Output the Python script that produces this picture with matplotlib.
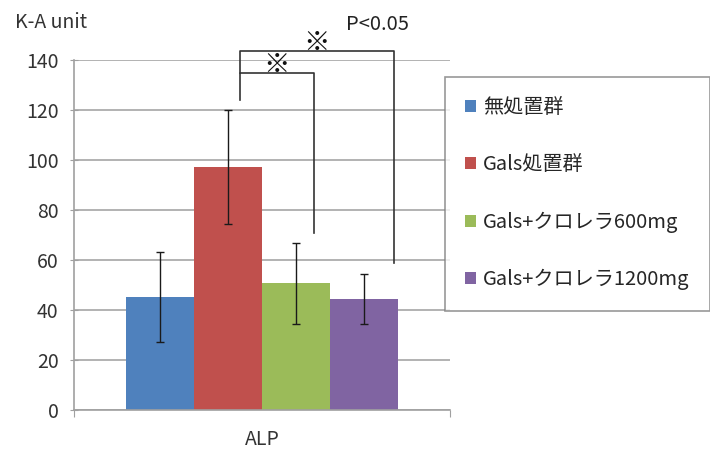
import matplotlib
matplotlib.use("Agg")
import matplotlib.pyplot as plt
from matplotlib.patches import Patch

plt.rcParams['font.family'] = ['Noto Sans CJK JP', 'DejaVu Sans']

category = "ALP"
groups = ["無処置群", "Gals処置群", "Gals+クロレラ600mg", "Gals+クロレラ1200mg"]
values = [45.2, 97.2, 50.8, 44.4]
errors = [18.0, 22.8, 16.2, 10.0]
colors = ["#4F81BD", "#C0504D", "#9BBB59", "#8064A2"]
yticks = [0, 20, 40, 60, 80, 100, 120, 140]
ylabel = "K-A unit"
sig_label = "P<0.05"
sig_mark = "※"

W, H = 710, 450
fig = plt.figure(figsize=(W / 100, H / 100), dpi=100)
ax = fig.add_axes([74 / W, 1 - 410 / H, (450 - 74) / W, 350 / H])

bw = 0.1815
n = len(groups)
xs = [(i - (n - 1) / 2) * bw for i in range(n)]
ax.bar(xs, values, width=bw, color=colors, edgecolor="none", zorder=2)
ax.errorbar(xs, values, yerr=errors, fmt="none", ecolor="#1a1a1a",
            elinewidth=1.0, capsize=3, capthick=1.0, zorder=3)

ax.set_xlim(-0.5, 0.5)
ax.set_ylim(0, 140)
ax.set_yticks(yticks)
ax.set_xticks([-0.5, 0.5])
ax.set_xticklabels(["", ""])
ax.tick_params(axis="x", length=5, color="#a0a0a0", direction="out")
ax.tick_params(axis="y", length=6, color="#a0a0a0", direction="inout",
               labelsize=14, labelcolor="#333333", pad=8)
ax.yaxis.grid(True, color="#a6a6a6", linewidth=1.2, zorder=0)
ax.set_axisbelow(True)
for s in ["top", "right"]:
    ax.spines[s].set_visible(False)
ax.spines["left"].set_color("#a0a0a0")
ax.spines["bottom"].set_color("#a0a0a0")
ax.spines["left"].set_linewidth(1.2)
ax.spines["bottom"].set_linewidth(1.2)

ax.text(0.5, -0.085, category, transform=ax.transAxes, ha="center", va="center",
        fontsize=14, color="#333333")
ax.text(15 / W, 1 - 22 / H, ylabel, transform=fig.transFigure, ha="left",
        va="center", fontsize=14, color="#333333")

# significance brackets
xl, xi, xo = -0.0585, 0.138, 0.351
y_in, y_out = 134.8, 143.7
lc = "#333333"
ax.plot([xl, xl, xi, xi], [124, y_in, y_in, 70.8], color=lc, lw=1.2,
        clip_on=False, zorder=4)
ax.plot([xl, xl, xo, xo], [y_in, y_out, y_out, 58.8], color=lc, lw=1.2,
        clip_on=False, zorder=4)
ax.text((xl + xi) / 2 + 0.0, y_in - 2.5, sig_mark, ha="center", va="bottom",
        fontsize=19, color="#111111", zorder=5)
ax.text((xl + xo) / 2, y_out - 2.5, sig_mark, ha="center", va="bottom",
        fontsize=19, color="#111111", zorder=5)
ax.text(378 / W, 1 - 25 / H, sig_label, transform=fig.transFigure,
        ha="center", va="center", fontsize=14.5, color="#222222")

handles = [Patch(facecolor=c, edgecolor="none") for c in colors]
leg = fig.legend(handles, groups, loc="upper left",
                 bbox_to_anchor=(445 / W, 1 - 77 / H), frameon=True,
                 fancybox=False, fontsize=14.5, handlelength=0.55,
                 handleheight=0.55, handletextpad=0.35, labelspacing=1.8,
                 borderpad=1.0, borderaxespad=0)
leg.get_frame().set_edgecolor("#7f7f7f")
leg.get_frame().set_linewidth(1.2)
for t in leg.get_texts():
    t.set_color("#262626")

fig.savefig("out.png", dpi=100)
